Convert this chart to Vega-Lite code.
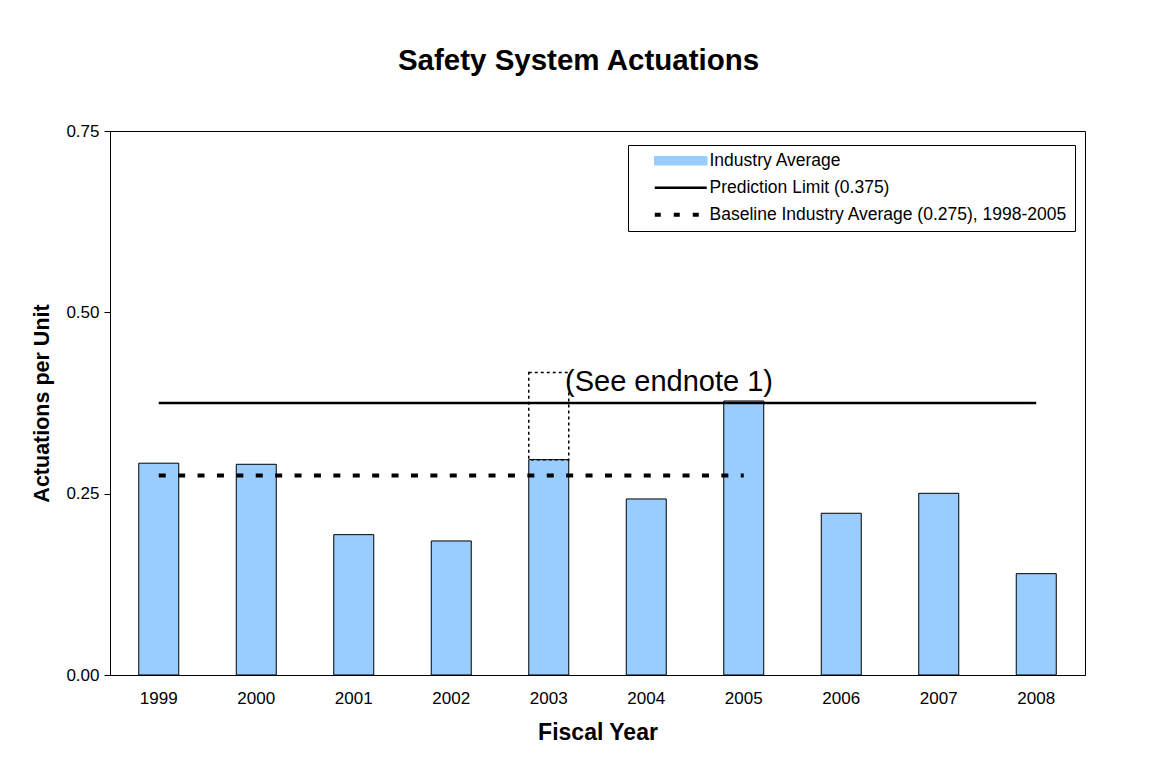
{
  "$schema": "https://vega.github.io/schema/vega-lite/v6.json",
  "autosize": "none",
  "width": 975,
  "height": 544,
  "padding": {"left": 110, "top": 131, "right": 70, "bottom": 94},
  "background": "white",
  "title": {
    "text": "Safety System Actuations",
    "font": "Liberation Sans",
    "fontSize": 29.5,
    "fontWeight": "bold",
    "color": "black",
    "anchor": "middle",
    "frame": "group",
    "dx": -19,
    "baseline": "alphabetic",
    "offset": 23
  },
  "config": {
    "view": {"stroke": "black", "strokeWidth": 1},
    "font": "Liberation Sans"
  },
  "datasets": {
    "bars": [
      {"year": "1999", "value": 0.292, "series": "Industry Average"},
      {"year": "2000", "value": 0.2905, "series": "Industry Average"},
      {"year": "2001", "value": 0.1935, "series": "Industry Average"},
      {"year": "2002", "value": 0.1848, "series": "Industry Average"},
      {"year": "2003", "value": 0.2969, "series": "Industry Average"},
      {"year": "2004", "value": 0.2427, "series": "Industry Average"},
      {"year": "2005", "value": 0.3778, "series": "Industry Average"},
      {"year": "2006", "value": 0.223, "series": "Industry Average"},
      {"year": "2007", "value": 0.2505, "series": "Industry Average"},
      {"year": "2008", "value": 0.1397, "series": "Industry Average"}
    ],
    "refs": [
      {"start": "1999", "end": "2008", "value": 0.375, "series": "Prediction Limit (0.375)"},
      {"start": "1999", "end": "2005", "value": 0.275, "series": "Baseline Industry Average (0.275), 1998-2005"}
    ],
    "note": [
      {"year": "2003", "low": 0.2969, "high": 0.417, "label": "(See endnote 1)", "labelY": 0.392}
    ]
  },
  "layer": [
    {
      "data": {"name": "bars"},
      "mark": {"type": "bar", "stroke": "black", "width": 40},
      "encoding": {
        "x": {
          "field": "year",
          "type": "ordinal",
          "scale": {"paddingInner": 0, "paddingOuter": 0},
          "axis": {
            "title": "Fiscal Year",
            "titleFont": "Liberation Sans",
            "titleFontSize": 23,
            "titleFontWeight": "bold",
            "titleColor": "black",
            "titlePadding": 15,
            "labelFont": "Liberation Sans",
            "labelFontSize": 17,
            "labelColor": "black",
            "labelAngle": 0,
            "labelPadding": 15,
            "ticks": false,
            "domainColor": "black",
            "domainWidth": 1
          }
        },
        "y": {
          "field": "value",
          "type": "quantitative",
          "scale": {"domain": [0, 0.75], "nice": false},
          "axis": {
            "title": "Actuations per Unit",
            "titleFont": "Liberation Sans",
            "titleFontSize": 21.5,
            "titleFontWeight": "bold",
            "titleColor": "black",
            "titlePadding": 12,
            "values": [0, 0.25, 0.5, 0.75],
            "format": ".2f",
            "labelFont": "Liberation Sans",
            "labelFontSize": 17,
            "labelColor": "black",
            "labelPadding": 5,
            "tickSize": 6,
            "tickColor": "black",
            "domainColor": "black",
            "grid": false
          }
        },
        "color": {
          "field": "series",
          "type": "nominal",
          "scale": {
            "domain": ["Industry Average", "Prediction Limit (0.375)", "Baseline Industry Average (0.275), 1998-2005"],
            "range": ["#99ccff", "black", "black"]
          },
          "legend": {
            "title": null,
            "orient": "none",
            "legendX": 518,
            "legendY": 14,
            "padding": 7,
            "strokeColor": "black",
            "fillColor": "white",
            "labelFont": "Liberation Sans",
            "labelFontSize": 17.5,
            "labelColor": "black",
            "labelOffset": 20,
            "symbolOffset": 37,
            "rowPadding": 8,
            "symbolSize": 2704,
            "labelLimit": 500,
            "symbolType": {"expr": "datum.value === 'Industry Average' ? 'M-1,-0.15H1V0.15H-1Z' : 'M-1,0H1'"},
            "symbolStrokeColor": "black",
            "symbolStrokeWidth": {"expr": "datum.value === 'Industry Average' ? 1.5 : (datum.value === 'Prediction Limit (0.375)' ? 2.5 : 4)"},
            "symbolDash": {"expr": "datum.value === 'Baseline Industry Average (0.275), 1998-2005' ? [6, 13] : [1, 0]"},
            "symbolOpacity": 1
          }
        }
      }
    },
    {
      "data": {"name": "refs"},
      "mark": {"type": "rule"},
      "encoding": {
        "x": {"field": "start", "type": "ordinal", "bandPosition": 0.5},
        "x2": {"field": "end", "bandPosition": 0.5},
        "y": {"field": "value", "type": "quantitative"},
        "color": {"field": "series", "type": "nominal", "legend": null},
        "strokeWidth": {
          "field": "series",
          "type": "nominal",
          "scale": {"domain": ["Prediction Limit (0.375)", "Baseline Industry Average (0.275), 1998-2005"], "range": [2.5, 4]},
          "legend": null
        },
        "strokeDash": {
          "field": "series",
          "type": "nominal",
          "scale": {"domain": ["Prediction Limit (0.375)", "Baseline Industry Average (0.275), 1998-2005"], "range": [[1, 0], [7, 12.4]]},
          "legend": null
        }
      }
    },
    {
      "data": {"name": "note"},
      "mark": {"type": "bar", "fill": null, "fillOpacity": 0, "stroke": "black", "strokeWidth": 1.5, "strokeDash": [3, 3], "width": 40},
      "encoding": {
        "x": {"field": "year", "type": "ordinal"},
        "y": {"field": "low", "type": "quantitative"},
        "y2": {"field": "high"}
      }
    },
    {
      "data": {"name": "note"},
      "mark": {"type": "text", "align": "left", "baseline": "alphabetic", "font": "Liberation Sans", "fontSize": 29, "color": "black"},
      "encoding": {
        "x": {"field": "year", "type": "ordinal", "bandPosition": 0.667},
        "y": {"field": "labelY", "type": "quantitative"},
        "text": {"field": "label"}
      }
    }
  ]
}
